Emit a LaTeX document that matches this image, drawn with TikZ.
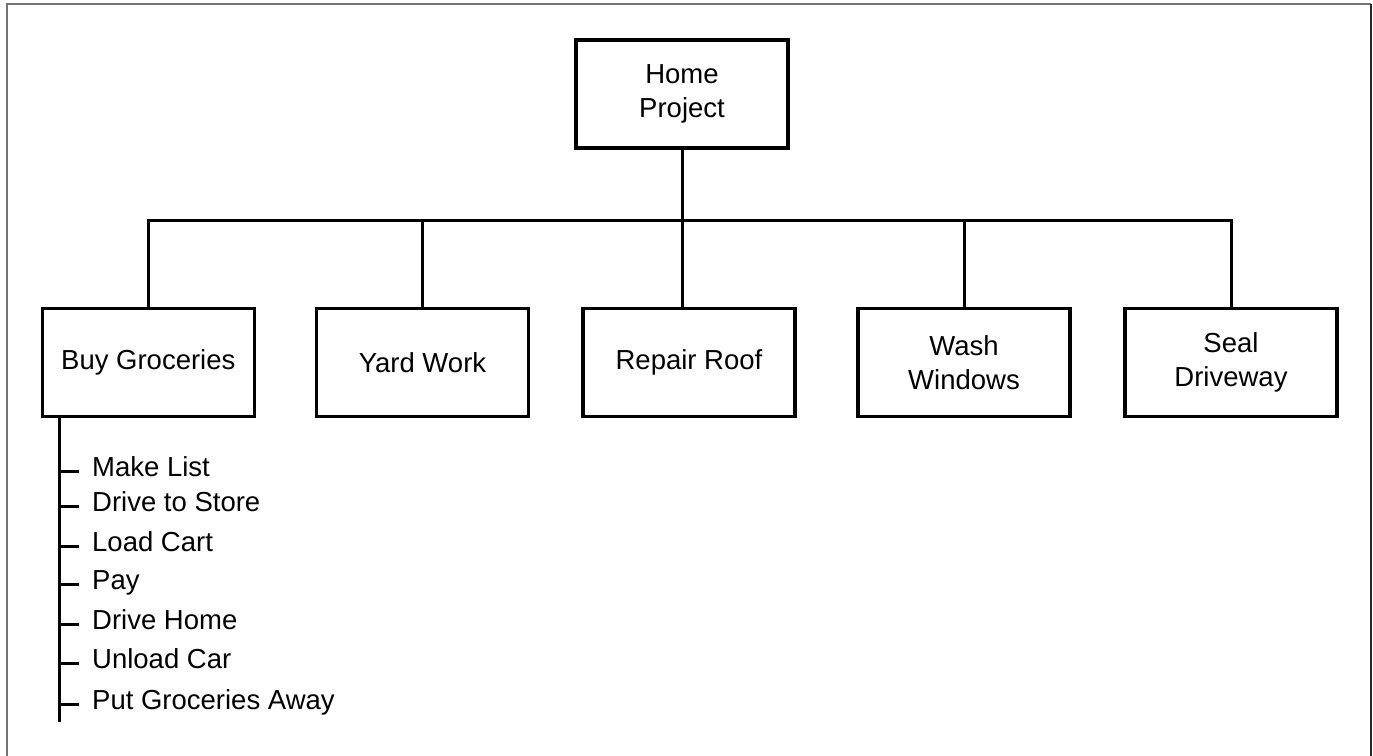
\documentclass[tikz,border=0pt]{standalone}
\usepackage{fontspec}
\setmainfont{Liberation Sans}
\begin{document}
\begin{tikzpicture}[x=1pt,y=-1pt,
  box/.style={draw, line width=3.3pt, minimum width=212pt, minimum height=108pt, align=center, font=\fontsize{27.5}{34.5}\selectfont, inner sep=0pt},
  conn/.style={line width=3pt},
  item/.style={anchor=west, inner sep=0pt, font=\fontsize{27.5}{33}\selectfont, text height=10pt, text depth=0pt},
  frameL/.style={line width=2pt, black!55},
  frameR/.style={line width=2pt, black!85}
]
\useasboundingbox (0,0) rectangle (1373,755);
\draw[frameL] (6.5,760) -- (6.5,4) -- (1371,4);
\draw[frameR] (1371,4) -- (1371,760);

\node[box] (home) at (682,94) {Home\\Project};
\node[box] (buy) at (148.3,362.5) {Buy Groceries};
\node[box] (yard) at (422.5,362.5) {Yard Work};
\node[box] (roof) at (689,362.5) {Repair Roof};
\node[box] (wash) at (964,362.5) {Wash\\Windows};
\node[box] (seal) at (1231,362.5) {Seal\\Driveway};

\coordinate (bar) at (0,220);
\draw[conn] (buy.north) -- (buy.north |- bar) -- (seal.north |- bar) -- (seal.north);
\draw[conn] (home.south) -- (home.south |- roof.north);
\draw[conn] (yard.north |- bar) -- (yard.north);
\draw[conn] (wash.north |- bar) -- (wash.north);

\coordinate (spineend) at (59.5,722);
\draw[conn] (buy.south -| spineend) -- (spineend);
\foreach \t/\y/\n in {Make List/471.7/1, Drive to Store/506.7/2, Load Cart/546/3, Pay/584/4, Drive Home/624/5, Unload Car/663/6, Put Groceries Away/704/7}{
  \node[item] (l\n) at (92,\y) {\t};
  \draw[conn] (spineend |- l\n.west) -- ([xshift=-13pt]l\n.west);
}
\end{tikzpicture}
\end{document}
